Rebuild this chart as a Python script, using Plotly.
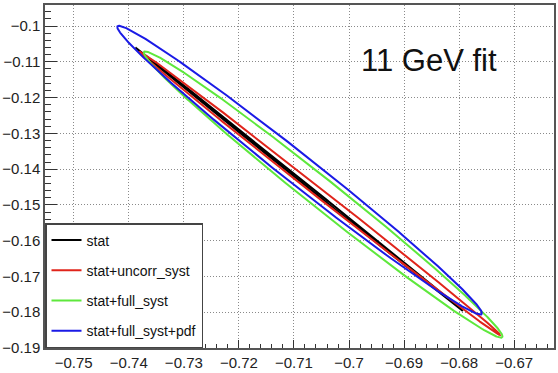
import numpy as np
import plotly.graph_objects as go

# Fitted error ellipses: centre, sigma and correlation
series_names = ["stat", "stat+uncorr_syst", "stat+full_syst", "stat+full_syst+pdf"]
center_x = [-0.70906, -0.70527, -0.70470, -0.70897]
center_y = [-0.14281, -0.14679, -0.14710, -0.14029]
sigma_x = [0.02974, 0.03273, 0.03258, 0.03312]
sigma_y = [0.03682, 0.03959, 0.04002, 0.04037]
rho = [-0.99994, -0.9992, -0.9915, -0.9912]
colors = ["#000000", "#e0241b", "#5ee83c", "#1a1ae6"]

x_ticks = [-0.75, -0.74, -0.73, -0.72, -0.71, -0.70, -0.69, -0.68, -0.67]
y_ticks = [-0.10, -0.11, -0.12, -0.13, -0.14, -0.15, -0.16, -0.17, -0.18, -0.19]
x_range = [-0.75522, -0.66277]
y_range = [-0.19, -0.09411]
label_text = "11 GeV fit"

fig = go.Figure()
t = np.linspace(0, 2 * np.pi, 721)
for i, name in enumerate(series_names):
    r = rho[i]
    xs = center_x[i] + sigma_x[i] * np.cos(t)
    ys = center_y[i] + sigma_y[i] * (r * np.cos(t) + np.sqrt(1 - r * r) * np.sin(t))
    fig.add_trace(go.Scatter(
        x=xs, y=ys, mode="lines", name=name, legendgroup=name,
        line=dict(color=colors[i], width=2),
    ))

font_family = "Liberation Sans, Arial, sans-serif"
axis_common = dict(
    showline=True, mirror=True, linecolor="#555555", linewidth=1.5,
    showgrid=True, gridcolor="#8a8a8a", griddash="1px,2px", gridwidth=1,
    zeroline=False, ticks="inside", tickcolor="#333333",
    tickfont=dict(family=font_family, size=15, color="#222222"),
)
fig.update_xaxes(
    range=x_range, tickvals=x_ticks, ticklen=8,
    minor=dict(dtick=0.002, tick0=0, ticks="inside", ticklen=4, tickcolor="#333333", showgrid=False),
    **axis_common,
)
fig.update_yaxes(
    range=y_range, tickvals=y_ticks, ticklen=12,
    minor=dict(dtick=0.002, tick0=0, ticks="inside", ticklen=6, tickcolor="#333333", showgrid=False),
    **axis_common,
)

fig.add_annotation(
    x=-0.68543, y=-0.1095, xref="x", yref="y", text=label_text, showarrow=False,
    xanchor="center", yanchor="middle",
    font=dict(family=font_family, size=31, color="#111111"),
)

fig.update_layout(
    width=558, height=373,
    margin=dict(l=42, r=2, t=5, b=18),
    paper_bgcolor="white", plot_bgcolor="white",
    showlegend=True,
    legend=dict(
        x=0, y=0, xanchor="left", yanchor="bottom",
        bgcolor="white", bordercolor="#444444", borderwidth=1.5,
        font=dict(family=font_family, size=14, color="#111111"),
        tracegroupgap=9, itemwidth=30,
    ),
)

fig.write_html("out.html")
